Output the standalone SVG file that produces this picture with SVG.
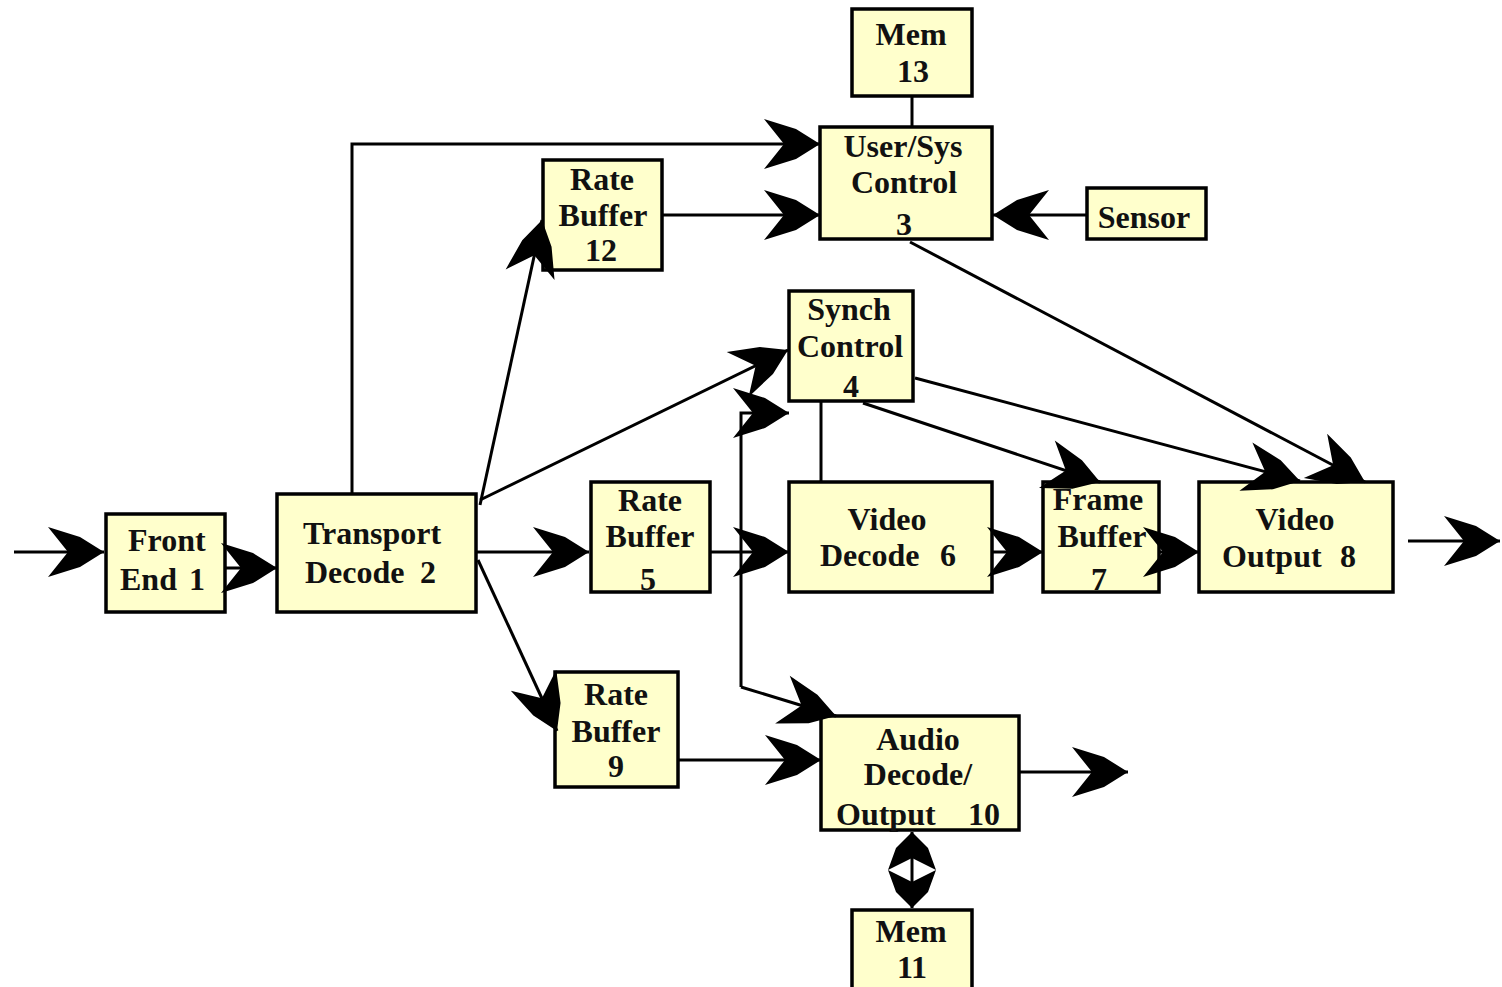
<svg xmlns="http://www.w3.org/2000/svg" width="1502" height="987" viewBox="0 0 1502 987">
<style>
.box{fill:#FFFFCC;stroke:#000;stroke-width:3.5}
.t{font-family:"Liberation Serif","Times New Roman",serif;font-weight:bold;font-size:32px;fill:#111;text-anchor:middle}
.ts{font-family:"Liberation Serif","Times New Roman",serif;font-weight:bold;font-size:32px;fill:#111}
.c{fill:none;stroke:#000;stroke-width:3}
.a{marker-end:url(#ah)}
</style>
<defs>
<marker id="ah" viewBox="-58 -26 60 52" refX="0" refY="0" markerWidth="60" markerHeight="52" orient="auto" markerUnits="userSpaceOnUse">
<path d="M0,0 L-24,-15 L-56,-25 L-36,0 L-56,25 L-24,15 Z" fill="#000"/>
</marker>
<marker id="ahs" viewBox="-40 -26 42 52" refX="0" refY="0" markerWidth="42" markerHeight="52" orient="auto-start-reverse" markerUnits="userSpaceOnUse">
<path d="M0,0 L-16,-16 L-38,-24 L-26,0 L-38,24 L-16,16 Z" fill="#000"/>
</marker>
</defs>
<rect width="1502" height="987" fill="#fff"/>

<g id="n1"><rect class="box" x="106" y="514" width="119" height="98"/><text class="ts" x="128" y="551">Front</text><text class="ts" x="120" y="590">End<tspan x="189">1</tspan></text></g>
<g id="n2"><rect class="box" x="277" y="494" width="199" height="118"/><text class="ts" x="303" y="544">Transport</text><text class="ts" x="305" y="583">Decode<tspan x="420">2</tspan></text></g>
<g id="n12"><rect class="box" x="543" y="160" width="119" height="110"/><text class="t" x="602" y="190">Rate</text><text class="t" x="603" y="226">Buffer</text><text class="t" x="601" y="261">12</text></g>
<g id="n3"><rect class="box" x="820" y="127" width="172" height="112"/><text class="t" x="903" y="157">User/Sys</text><text class="t" x="904" y="193">Control</text><text class="t" x="904" y="235">3</text></g>
<g id="n13"><rect class="box" x="852" y="9" width="120" height="87"/><text class="t" x="911" y="45">Mem</text><text class="t" x="913" y="82">13</text></g>
<g id="nS"><rect class="box" x="1087" y="188" width="119" height="51"/><text class="t" x="1144" y="228">Sensor</text></g>
<g id="n4"><rect class="box" x="789" y="291" width="124" height="110"/><text class="t" x="849" y="320">Synch</text><text class="t" x="850" y="357">Control</text><text class="t" x="851" y="397">4</text></g>
<g id="n5"><rect class="box" x="591" y="482" width="119" height="110"/><text class="t" x="650" y="511">Rate</text><text class="t" x="650" y="547">Buffer</text><text class="t" x="648" y="590">5</text></g>
<g id="n6"><rect class="box" x="789" y="482" width="203" height="110"/><text class="t" x="887" y="530">Video</text><text class="ts" x="820" y="566">Decode<tspan x="940">6</tspan></text></g>
<g id="n7"><rect class="box" x="1043" y="482" width="116" height="110"/><text class="t" x="1098" y="510">Frame</text><text class="t" x="1102" y="547">Buffer</text><text class="t" x="1099" y="590">7</text></g>
<g id="n8"><rect class="box" x="1199" y="482" width="194" height="110"/><text class="t" x="1295" y="530">Video</text><text class="ts" x="1222" y="567">Output<tspan x="1340">8</tspan></text></g>
<g id="n9"><rect class="box" x="555" y="672" width="123" height="115"/><text class="t" x="616" y="705">Rate</text><text class="t" x="616" y="742">Buffer</text><text class="t" x="616" y="777">9</text></g>
<g id="n10"><rect class="box" x="821" y="716" width="198" height="114"/><text class="t" x="918" y="750">Audio</text><text class="t" x="918" y="785">Decode/</text><text class="ts" x="836" y="825">Output<tspan x="968">10</tspan></text></g>
<g id="n11"><rect class="box" x="852" y="910" width="120" height="90"/><text class="t" x="911" y="942">Mem</text><text class="t" x="912" y="978">11</text></g>

<g id="connectors">
<path class="c a" d="M14,552 H104"/>
<path class="c a" d="M225,568 H277"/>
<path class="c a" d="M352,494 V144 H820"/>
<path class="c a" d="M480,505 L542,220"/>
<path class="c a" d="M480,500 L788,350"/>
<path class="c a" d="M476,552 H589"/>
<path class="c a" d="M478,560 L557,731"/>
<path class="c a" d="M662,215 H820"/>
<path class="c a" d="M1087,215 H993"/>
<path class="c" d="M912,96 V127"/>
<path class="c a" d="M910,242 L1365,482"/>
<path class="c a" d="M915,378 L1300,481"/>
<path class="c a" d="M863,403 L1100,482"/>
<path class="c" d="M821,401 V482"/>
<path class="c a" d="M710,552 H789"/>
<path class="c a" d="M741,687 V413 H789"/>
<path class="c a" d="M741,687 L836,716"/>
<path class="c a" d="M678,760 H821"/>
<path class="c a" d="M1019,772 H1128"/>
<path class="c" d="M912,832 V908" marker-start="url(#ahs)" marker-end="url(#ahs)"/>
<path class="c a" d="M992,552 H1043"/>
<path class="c a" d="M1159,552 H1199"/>
<path class="c a" d="M1408,541 H1500"/>
</g>
</svg>
